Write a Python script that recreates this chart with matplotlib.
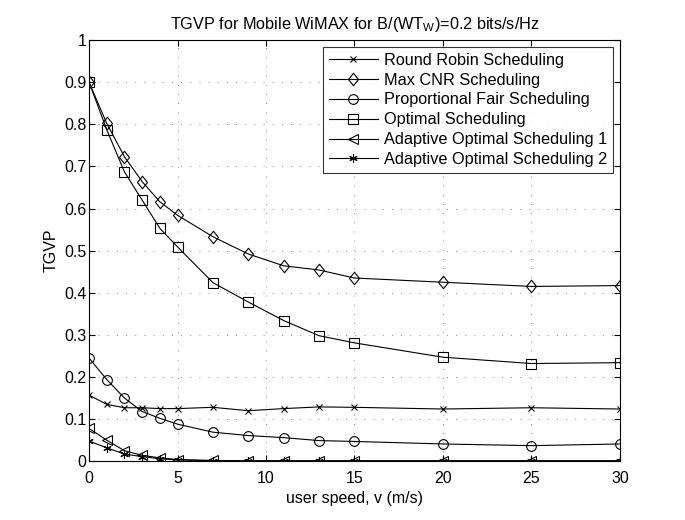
import matplotlib
matplotlib.use("Agg")
import matplotlib.pyplot as plt
from matplotlib.path import Path

plt.rcParams['font.family'] = ['Liberation Sans', 'DejaVu Sans']

speed = [0, 1, 2, 3, 4, 5, 7, 9, 11, 13, 15, 20, 25, 30]
round_robin = [0.157, 0.135, 0.127, 0.127, 0.125, 0.125, 0.128, 0.120, 0.125, 0.129, 0.128, 0.124, 0.127, 0.124]
max_cnr = [0.900, 0.802, 0.723, 0.664, 0.616, 0.584, 0.533, 0.492, 0.464, 0.454, 0.435, 0.425, 0.415, 0.417]
prop_fair = [0.245, 0.194, 0.150, 0.118, 0.102, 0.088, 0.069, 0.061, 0.056, 0.049, 0.047, 0.041, 0.037, 0.041]
optimal = [0.900, 0.787, 0.687, 0.620, 0.553, 0.509, 0.424, 0.378, 0.334, 0.298, 0.281, 0.247, 0.232, 0.234]
adaptive1 = [0.078, 0.050, 0.025, 0.014, 0.008, 0.004, 0.002, 0.001, 0.001, 0.001, 0.001, 0.001, 0.001, 0.001]
adaptive2 = [0.048, 0.032, 0.017, 0.011, 0.006, 0.003, 0.001, 0.001, 0.001, 0.001, 0.001, 0.001, 0.001, 0.001]

diamond = Path([(0, 1), (0.8, 0), (0, -1), (-0.8, 0), (0, 1)],
               [Path.MOVETO, Path.LINETO, Path.LINETO, Path.LINETO, Path.CLOSEPOLY])

series = [
    ("Round Robin Scheduling", round_robin, 'x', 5),
    ("Max CNR Scheduling", max_cnr, diamond, 9),
    ("Proportional Fair Scheduling", prop_fair, 'o', 7),
    ("Optimal Scheduling", optimal, 's', 6.5),
    ("Adaptive Optimal Scheduling 1", adaptive1, '<', 7.5),
    ("Adaptive Optimal Scheduling 2", adaptive2, (6, 2, 0), 6),
]

fig = plt.figure(figsize=(6.85, 5.2), dpi=100)
ax = fig.add_axes([0.130, 0.113, 0.775, 0.810])

for label, vals, m, ms in series:
    ax.plot(speed, vals, color='black', lw=0.8, marker=m, markersize=ms,
            markerfacecolor='none', markeredgewidth=0.8, label=label)

ax.set_xlim(0, 30)
ax.set_ylim(0, 1)
ax.set_xticks([0, 5, 10, 15, 20, 25, 30])
ax.set_yticks([i / 10 for i in range(11)])
ax.set_yticklabels(['0', '0.1', '0.2', '0.3', '0.4', '0.5', '0.6', '0.7', '0.8', '0.9', '1'])
ax.grid(True, linestyle=(0, (1, 10)), color='#666666', linewidth=0.6)
ax.tick_params(direction='in', labelsize=11.5, top=True, right=True, length=4)
ax.tick_params(axis='x', pad=7)
ax.tick_params(axis='y', pad=2)
for s in ax.spines.values():
    s.set_linewidth(0.8)

ax.set_xlabel('user speed, v (m/s)', fontsize=11.5, labelpad=3.5)
ax.set_ylabel('TGVP', fontsize=11.5)
ax.set_title('TGVP for Mobile WiMAX for B/(WT$_\\mathregular{W}$)=0.2 bits/s/Hz', fontsize=11.7, pad=8)

leg = ax.legend(loc='upper right', fontsize=11.7, frameon=True, fancybox=False,
                edgecolor='black', borderpad=0.35, labelspacing=0.3, handlelength=3.0,
                handletextpad=0.4, borderaxespad=0.43)
leg.get_frame().set_linewidth(0.8)

fig.savefig('out.png', dpi=100)
